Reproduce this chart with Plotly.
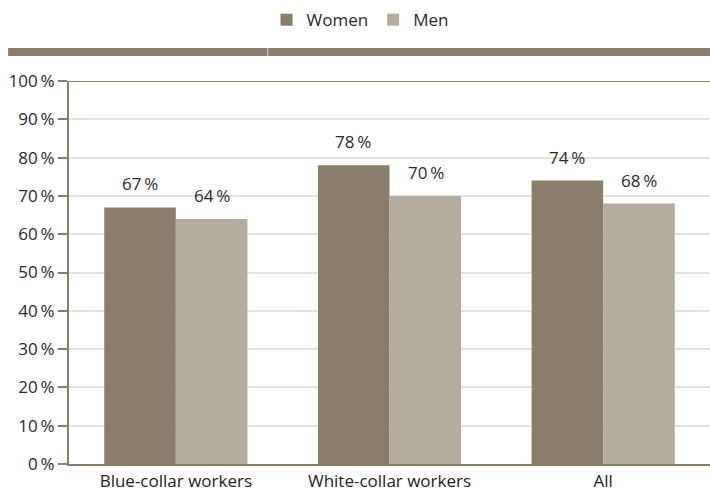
import plotly.graph_objects as go

categories = ["Blue-collar workers", "White-collar workers", "All"]
women = [67, 78, 74]
men = [64, 70, 68]
tick_vals = [0, 10, 20, 30, 40, 50, 60, 70, 80, 90, 100]
tick_text = [f"{v}\u2009%" for v in tick_vals]

c_women = "#8a7d6c"
c_men = "#b5aca0"
axis_c = "#8a7d6c"
font = "Open Sans"
txt_c = "#2a2a2a"

fig = go.Figure()
fig.add_bar(x=categories, y=women, name="Women", marker_color=c_women, marker_line_width=0)
fig.add_bar(x=categories, y=men, name="Men", marker_color=c_men, marker_line_width=0)

for i, cat in enumerate(categories):
    for val, off in ((women[i], -0.17), (men[i], 0.17)):
        fig.add_annotation(x=i + off, y=val, text=f"{val}\u2009%", showarrow=False,
                           yanchor="bottom", yshift=10, xref="x", yref="y",
                           font=dict(size=17, color=txt_c, family=font))

# thick band under legend
fig.add_shape(type="rect", xref="paper", yref="paper", x0=-0.095, x1=1.0,
              y0=1.065, y1=1.086, fillcolor=axis_c, line_width=0, layer="above")
fig.add_shape(type="line", xref="paper", yref="paper", x0=0.31, x1=0.31,
              y0=1.065, y1=1.086, line=dict(color="#d8d2ca", width=1), layer="above")
# top line at 100%
fig.add_shape(type="line", xref="paper", yref="y", x0=0, x1=1, y0=100, y1=100,
              line=dict(color=axis_c, width=2))

fig.update_layout(
    width=710, height=492,
    margin=dict(l=69, r=0, t=81, b=28, autoexpand=False),
    paper_bgcolor="white", plot_bgcolor="white",
    barmode="group", bargap=0.33, bargroupgap=0,
    font=dict(family=font, size=17, color=txt_c),
    legend=dict(orientation="h", x=0.454, xanchor="center", y=0.959, yanchor="middle",
                yref="container", font=dict(size=17, color=txt_c), traceorder="normal"),
    showlegend=True,
)
fig.update_xaxes(showline=True, linecolor=axis_c, linewidth=2, ticks="", showgrid=False,
                 ticklabelstandoff=1, tickfont=dict(size=17, color="#222222"))
fig.update_yaxes(range=[0, 100], tickvals=tick_vals, ticktext=tick_text,
                 showline=True, linecolor=axis_c, linewidth=2,
                 ticks="outside", ticklen=9, tickcolor=axis_c, tickwidth=2,
                 showgrid=True, gridcolor="#e5e2dc", gridwidth=2, zeroline=False,
                 tickfont=dict(size=17, color=txt_c))

fig.write_html("out.html")
